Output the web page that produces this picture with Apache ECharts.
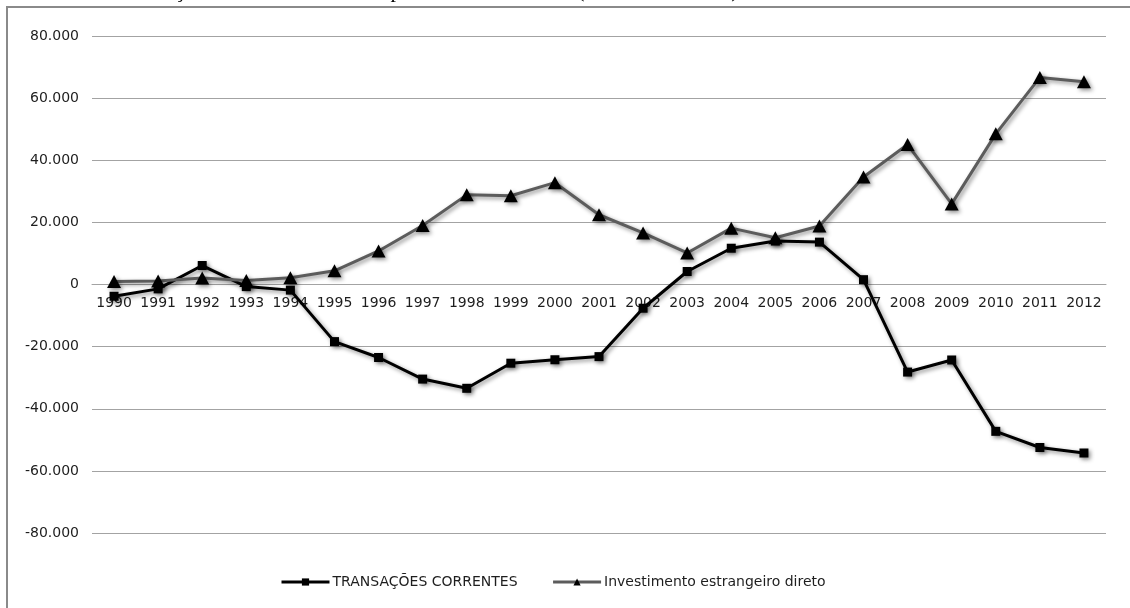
<!DOCTYPE html>
<html>
<head>
<meta charset="utf-8">
<title>Transações correntes e IED</title>
<script src="https://cdn.jsdelivr.net/npm/echarts@6/dist/echarts.min.js"></script>
<style>
  html, body { margin: 0; padding: 0; background: #fff; }
  #chart { width: 1130px; height: 608px; }
</style>
</head>
<body>
<div id="chart"></div>
<script>
// Brazil, 1990–2012, US$ millions
const years = ['1990','1991','1992','1993','1994','1995','1996','1997','1998','1999','2000',
               '2001','2002','2003','2004','2005','2006','2007','2008','2009','2010','2011','2012'];

const transacoesCorrentes = [-3784, -1407, 6109, -676, -1811, -18384, -23502, -30452, -33416,
  -25335, -24225, -23215, -7637, 4177, 11679, 13985, 13643, 1551, -28192, -24302, -47273,
  -52480, -54246];

const investimentoDireto = [989, 1103, 2061, 1291, 2150, 4405, 10792, 18993, 28856, 28578,
  32779, 22457, 16590, 10144, 18146, 15066, 18822, 34585, 45058, 25949, 48506, 66660, 65272];

const seriesNames = ['TRANSAÇÕES CORRENTES', 'Investimento estrangeiro direto'];
const titleText = 'Gráfico 4 – Transações correntes e IED no período 1990 a 2012 (em US$ milhões)';

const yMin = -80000, yMax = 80000, yStep = 20000;

// thousands separated with a dot, as in pt-BR
function fmt(v) {
  if (v === 0) return '0';
  const s = String(Math.abs(v)).replace(/\B(?=(\d{3})+(?!\d))/g, '.');
  return (v < 0 ? '-' : '') + s;
}

const font = 'DejaVu Sans';
const textColor = '#1e1e1e';
const shadow = { shadowColor: 'rgba(0,0,0,0.45)', shadowBlur: 4, shadowOffsetX: 2, shadowOffsetY: 2 };

const gridTop = 36, gridBottom = 75, chartH = 608;
// lift the category axis from the bottom edge up to the zero line
const plotH = chartH - gridTop - gridBottom;
const zeroOffset = -plotH * (0 - yMin) / (yMax - yMin);

const chart = echarts.init(document.getElementById('chart'), null, { renderer: 'canvas' });

chart.setOption({
  animation: false,
  backgroundColor: '#ffffff',
  graphic: [
    {
      type: 'rect',
      silent: true,
      shape: { x: 7, y: 7, width: 1140, height: 620 },
      style: { fill: 'none', stroke: '#8a8a8a', lineWidth: 2 }
    },
    {
      type: 'text',
      silent: true,
      x: 10,
      y: -20,
      style: {
        text: titleText,
        font: '22px "Liberation Serif"',
        fill: '#000',
        verticalAlign: 'top'
      }
    }
  ],
  grid: { left: 92, right: 24, top: gridTop, bottom: gridBottom, containLabel: false },
  legend: {
    data: seriesNames,
    left: 275,
    top: 570,
    itemWidth: 48,
    itemHeight: 9,
    itemGap: 34,
    lineStyle: { width: 3 },
    textStyle: { fontFamily: font, fontSize: 14, color: textColor, padding: [0, 0, 0, -2] }
  },
  xAxis: {
    type: 'category',
    data: years,
    boundaryGap: true,
    offset: zeroOffset,
    axisLine: { onZero: false, lineStyle: { color: '#a3a3a3', width: 1 } },
    axisTick: { show: false },
    axisLabel: { fontFamily: font, fontSize: 14, color: textColor, margin: 12, interval: 0 },
    splitLine: { show: false }
  },
  yAxis: {
    type: 'value',
    min: yMin,
    max: yMax,
    interval: yStep,
    axisLine: { show: false },
    axisTick: { show: false },
    axisLabel: { fontFamily: font, fontSize: 14, color: textColor, margin: 13, formatter: fmt },
    splitLine: { lineStyle: { color: '#a3a3a3', width: 1 } }
  },
  series: [
    {
      name: seriesNames[0],
      type: 'line',
      data: transacoesCorrentes,
      symbol: 'rect',
      symbolSize: 9,
      color: '#000000',
      lineStyle: Object.assign({ color: '#000000', width: 3 }, shadow),
      itemStyle: Object.assign({ color: '#000000' }, shadow),
      z: 2
    },
    {
      name: seriesNames[1],
      type: 'line',
      data: investimentoDireto,
      symbol: 'triangle',
      symbolSize: [14, 13],
      color: '#5c5c5c',
      lineStyle: Object.assign({ color: '#5c5c5c', width: 3 }, shadow),
      itemStyle: Object.assign({ color: '#000000' }, shadow),
      z: 3
    }
  ]
});
</script>
</body>
</html>
